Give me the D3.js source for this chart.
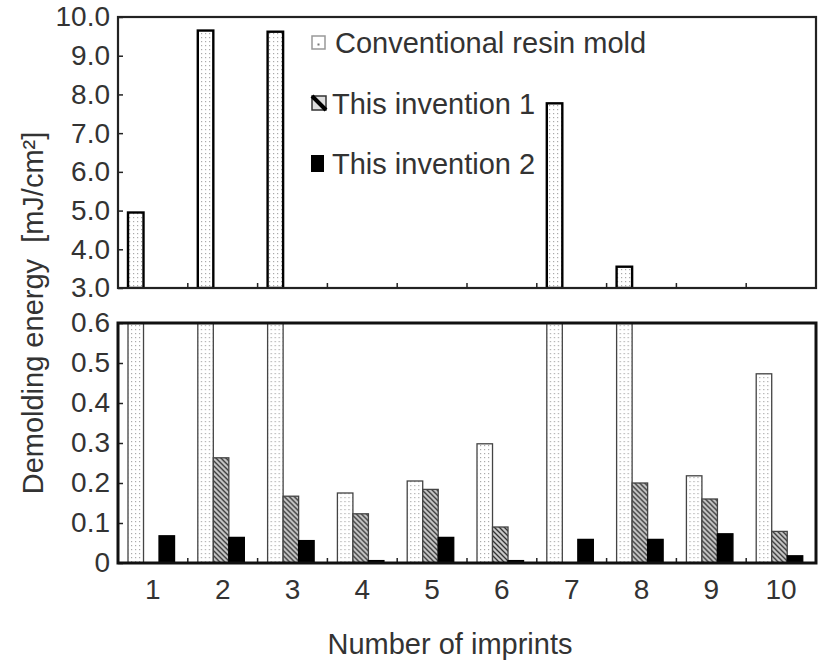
<!DOCTYPE html>
<html lang="en">
<head>
<meta charset="UTF-8">
<title>Demolding energy</title>
<script src="https://cdn.jsdelivr.net/npm/d3@7/dist/d3.min.js"></script>
<style>
  body { margin: 0; background: #fff; }
  svg { display: block; font-family: "Liberation Sans", Arial, sans-serif; }
</style>
</head>
<body>
<svg width="823" height="661"></svg>
<script>
// data
var categories = ["1", "2", "3", "4", "5", "6", "7", "8", "9", "10"];
var conventional = [4.95, 9.65, 9.62, 0.175, 0.205, 0.298, 7.77, 3.55, 0.218, 0.473];
var invention1 = [0, 0.263, 0.167, 0.123, 0.184, 0.09, 0, 0.2, 0.16, 0.079];
var invention2 = [0.068, 0.064, 0.056, 0.006, 0.064, 0.006, 0.059, 0.059, 0.073, 0.018];
var seriesNames = ["Conventional resin mold", "This invention 1", "This invention 2"];
var topTicks = [3, 4, 5, 6, 7, 8, 9, 10];
var bottomTicks = [0, 0.1, 0.2, 0.3, 0.4, 0.5, 0.6];

var svg = d3.select("svg");
var left = 118, right = 816;
var top1 = 17, bot1 = 288;    // upper panel (broken axis)
var top2 = 323, bot2 = 563;   // lower panel

// patterns
var defs = svg.append("defs");
var dots = defs.append("pattern").attr("id", "dots")
  .attr("patternUnits", "userSpaceOnUse").attr("width", 4).attr("height", 4);
dots.append("rect").attr("width", 4).attr("height", 4).attr("fill", "#fff");
dots.append("rect").attr("x", 1).attr("y", 1).attr("width", 1.2).attr("height", 1.2).attr("fill", "#aaa");

var hatch = defs.append("pattern").attr("id", "hatch")
  .attr("patternUnits", "userSpaceOnUse").attr("width", 5).attr("height", 5);
hatch.append("rect").attr("width", 5).attr("height", 5).attr("fill", "#c8c8c8");
hatch.append("path").attr("d", "M0,0L5,5M-1,4L1,6M4,-1L6,1")
  .attr("stroke", "#333").attr("stroke-width", 1.3);

defs.append("clipPath").attr("id", "clip1").append("rect")
  .attr("x", left).attr("y", top1).attr("width", right - left).attr("height", bot1 - top1);
defs.append("clipPath").attr("id", "clip2").append("rect")
  .attr("x", left).attr("y", top2).attr("width", right - left).attr("height", bot2 - top2);

// scales
var x0 = d3.scaleBand().domain(categories).range([left, right]);
var x1 = d3.scaleBand().domain(seriesNames).range([0, x0.bandwidth()])
  .paddingOuter(0.75).align(0.43);
var y1 = d3.scaleLinear().domain([3, 10]).range([bot1, top1]);
var y2 = d3.scaleLinear().domain([0, 0.6]).range([bot2, top2]);

var rows = categories.map(function (c, i) {
  return { cat: c, vals: [conventional[i], invention1[i], invention2[i]] };
});

// upper panel: only conventional bars above 3.0
var g1 = svg.append("g").attr("clip-path", "url(#clip1)");
g1.selectAll("rect").data(rows.filter(function (d) { return d.vals[0] > 3; }))
  .enter().append("rect")
  .attr("x", function (d) { return x0(d.cat) + x1(seriesNames[0]); })
  .attr("y", function (d) { return y1(d.vals[0]); })
  .attr("width", x1.bandwidth())
  .attr("height", function (d) { return bot1 - y1(d.vals[0]); })
  .attr("fill", "url(#dots)").attr("stroke", "#000").attr("stroke-width", 2.4);

// lower panel
var g2 = svg.append("g").attr("clip-path", "url(#clip2)");
var fills = ["url(#dots)", "url(#hatch)", "#000"];
var strokes = ["#444", "#444", "#000"];
var groups = g2.selectAll("g.cat").data(rows).enter().append("g")
  .attr("class", "cat")
  .attr("transform", function (d) { return "translate(" + x0(d.cat) + ",0)"; });
groups.selectAll("rect").data(function (d) {
    return d.vals.map(function (v, j) { return { v: v, j: j }; }).filter(function (e) { return e.v > 0; });
  })
  .enter().append("rect")
  .attr("x", function (e) { return x1(seriesNames[e.j]); })
  .attr("y", function (e) { return y2(Math.min(e.v, 0.65)); })
  .attr("width", x1.bandwidth())
  .attr("height", function (e) { return bot2 - y2(Math.min(e.v, 0.65)); })
  .attr("fill", function (e) { return fills[e.j]; })
  .attr("stroke", function (e) { return strokes[e.j]; })
  .attr("stroke-width", 1.3);

// y axes
var fmt1 = d3.format(".1f");
var ax1 = svg.append("g").attr("transform", "translate(" + left + ",0)")
  .call(d3.axisLeft(y1).tickValues(topTicks).tickFormat(fmt1).tickSizeInner(-5).tickSizeOuter(0).tickPadding(8));
var ax2 = svg.append("g").attr("transform", "translate(" + left + ",0)")
  .call(d3.axisLeft(y2).tickValues(bottomTicks)
    .tickFormat(function (d) { return d === 0 ? "0" : fmt1(d); })
    .tickSizeInner(-5).tickSizeOuter(0).tickPadding(8));
[ax1, ax2].forEach(function (a) {
  a.select(".domain").remove();
  a.selectAll(".tick line").attr("stroke", "#222").attr("stroke-width", 1.5);
  a.selectAll(".tick text").attr("font-size", 28).attr("fill", "#333")
    .attr("font-family", "Liberation Sans, Arial, sans-serif");
});

// x axis labels under lower panel
var ax3 = svg.append("g").attr("transform", "translate(0," + bot2 + ")")
  .call(d3.axisBottom(x0).tickSize(0).tickPadding(16));
ax3.select(".domain").remove();
ax3.selectAll(".tick text").attr("font-size", 28).attr("fill", "#333")
  .attr("font-family", "Liberation Sans, Arial, sans-serif");

// small ticks between categories, both panels
[bot1, bot2].forEach(function (yb) {
  svg.append("g").selectAll("line").data(categories.slice(1)).enter().append("line")
    .attr("x1", function (c) { return x0(c); }).attr("x2", function (c) { return x0(c); })
    .attr("y1", yb).attr("y2", yb - 5)
    .attr("stroke", "#222").attr("stroke-width", 1.5);
});

// frames
svg.append("rect").attr("x", left).attr("y", top1).attr("width", right - left).attr("height", bot1 - top1)
  .attr("fill", "none").attr("stroke", "#222").attr("stroke-width", 2.2);
svg.append("rect").attr("x", left).attr("y", top2).attr("width", right - left).attr("height", bot2 - top2)
  .attr("fill", "none").attr("stroke", "#111").attr("stroke-width", 3);

// legend
var legY = [43, 104, 164];
var leg = svg.append("g");
leg.append("rect").attr("x", 312).attr("y", legY[0] - 7).attr("width", 13).attr("height", 13)
  .attr("fill", "#fff").attr("stroke", "#999").attr("stroke-width", 1.5);
leg.append("rect").attr("x", 317.5).attr("y", legY[0] + 0.5).attr("width", 2).attr("height", 2).attr("fill", "#777");
leg.append("rect").attr("x", 312).attr("y", legY[1] - 8).attr("width", 14).attr("height", 14)
  .attr("fill", "#ddd").attr("stroke", "#333").attr("stroke-width", 1.5);
leg.append("path").attr("d", "M312," + (legY[1] - 8) + "L326," + (legY[1] + 6))
  .attr("stroke", "#000").attr("stroke-width", 4);
leg.append("rect").attr("x", 311).attr("y", legY[2] - 9).attr("width", 13).attr("height", 17).attr("fill", "#000");
leg.selectAll("text").data(seriesNames).enter().append("text")
  .attr("x", function (d, i) { return i === 0 ? 335 : 332; })
  .attr("y", function (d, i) { return legY[i]; })
  .attr("dy", "0.35em")
  .attr("font-size", 29).attr("fill", "#333")
  .text(function (d) { return d; });

// axis titles
svg.append("text").attr("transform", "translate(43,313) rotate(-90)")
  .attr("text-anchor", "middle").attr("font-size", 29).attr("fill", "#333")
  .text("Demolding energy\u00a0\u00a0[mJ/cm\u00b2]");
svg.append("text").attr("x", 450).attr("y", 654)
  .attr("text-anchor", "middle").attr("font-size", 29).attr("fill", "#333")
  .text("Number of imprints");
</script>
</body>
</html>
